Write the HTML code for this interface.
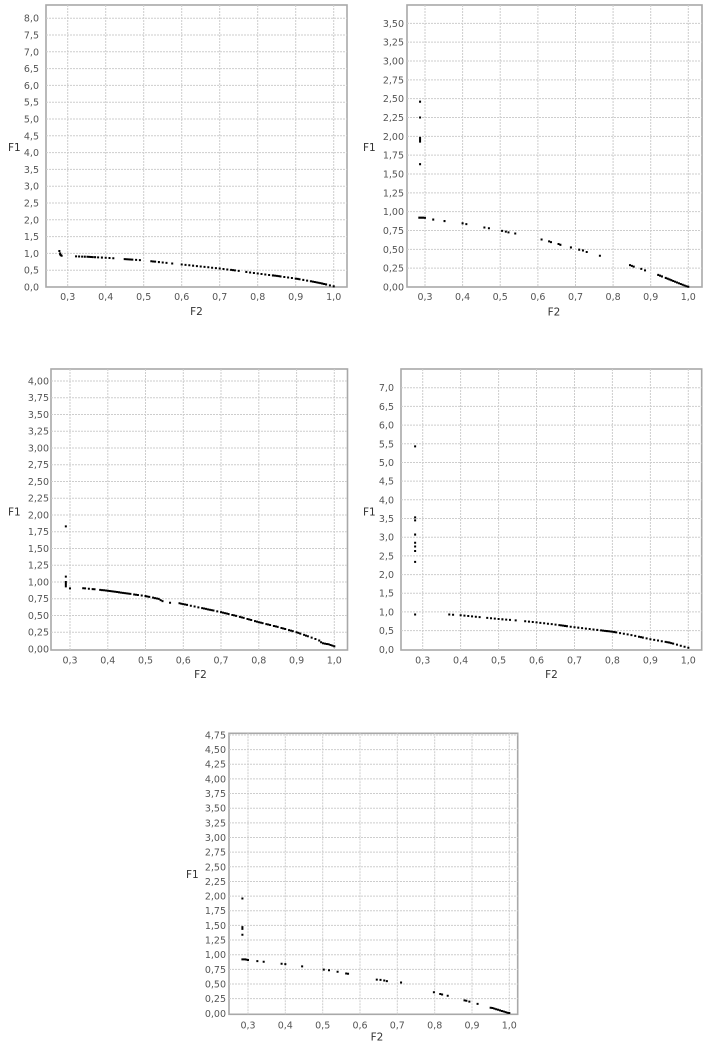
<!DOCTYPE html>
<html><head><meta charset="utf-8"><style>
html,body{margin:0;padding:0;background:#fff;}
svg{display:block;}
.tl{font-family:"DejaVu Sans","Liberation Sans",sans-serif;font-size:9.5px;fill:#555;}
.al{font-family:"DejaVu Sans","Liberation Sans",sans-serif;font-size:10.5px;fill:#333;}
.gr{stroke:#cdcdcd;stroke-width:1;stroke-dasharray:2 1;fill:none;}
.fr{fill:#fff;stroke:#a8a8a8;stroke-width:1.6;}
.pt{fill:#000;}
</style></head><body>
<svg width="710" height="1047" viewBox="0 0 710 1047" xmlns="http://www.w3.org/2000/svg">
<rect width="710" height="1047" fill="#fff"/>

<!-- ================= CHART 1 ================= -->
<g>
<rect class="fr" x="46" y="5" width="301" height="282"/>
<path class="gr" d="M67.7 5V287M105.7 5V287M143.7 5V287M181.7 5V287M219.7 5V287M257.7 5V287M295.7 5V287M333.7 5V287"/>
<path class="gr" d="M46 270.2H347M46 253.4H347M46 236.6H347M46 219.8H347M46 203H347M46 186.2H347M46 169.4H347M46 152.6H347M46 135.8H347M46 119H347M46 102.2H347M46 85.4H347M46 68.6H347M46 51.8H347M46 35H347M46 18.2H347"/>
<g class="tl" text-anchor="end">
<text x="39" y="290.5">0,0</text><text x="39" y="273.7">0,5</text><text x="39" y="256.9">1,0</text><text x="39" y="240.1">1,5</text><text x="39" y="223.3">2,0</text><text x="39" y="206.5">2,5</text><text x="39" y="189.7">3,0</text><text x="39" y="172.9">3,5</text><text x="39" y="156.1">4,0</text><text x="39" y="139.3">4,5</text><text x="39" y="122.5">5,0</text><text x="39" y="105.7">5,5</text><text x="39" y="88.9">6,0</text><text x="39" y="72.1">6,5</text><text x="39" y="55.3">7,0</text><text x="39" y="38.5">7,5</text><text x="39" y="21.7">8,0</text>
</g>
<g class="tl" text-anchor="middle">
<text x="67.7" y="300.2">0,3</text><text x="105.7" y="300.2">0,4</text><text x="143.7" y="300.2">0,5</text><text x="181.7" y="300.2">0,6</text><text x="219.7" y="300.2">0,7</text><text x="257.7" y="300.2">0,8</text><text x="295.7" y="300.2">0,9</text><text x="333.7" y="300.2">1,0</text>
</g>
<text class="al" x="8" y="150.8">F1</text>
<text class="al" x="196.5" y="315" text-anchor="middle">F2</text>
<path class="pt" transform="translate(-47.3,288) scale(380,-33.6)" d="M.278 1.07h.0053v.06h-.0053zM.28 1h.0053v.06h-.0053zM.28 .97h.0053v.06h-.0053zM.282 .95h.0053v.06h-.0053zM.284 .93h.0053v.06h-.0053zM.322 .911h.0053v.06h-.0053zM.33 .908h.0053v.06h-.0053zM.338 .905h.0053v.06h-.0053zM.345 .902h.0053v.06h-.0053zM.352 .899h.0053v.06h-.0053zM.357 .896h.0053v.06h-.0053zM.362 .893h.0053v.06h-.0053zM.366 .89h.0053v.06h-.0053zM.372 .887h.0053v.06h-.0053zM.38 .882h.0053v.06h-.0053zM.39 .876h.0053v.06h-.0053zM.4 .87h.0053v.06h-.0053zM.41 .862h.0053v.06h-.0053zM.42 .854h.0053v.06h-.0053zM.45 .83h.0053v.06h-.0053zM.455 .826h.0053v.06h-.0053zM.46 .822h.0053v.06h-.0053zM.465 .818h.0053v.06h-.0053zM.47 .814h.0053v.06h-.0053zM.48 .806h.0053v.06h-.0053zM.49 .798h.0053v.06h-.0053zM.52 .766h.0053v.06h-.0053zM.525 .76h.0053v.06h-.0053zM.53 .754h.0053v.06h-.0053zM.54 .742h.0053v.06h-.0053zM.55 .73h.0053v.06h-.0053zM.56 .718h.0053v.06h-.0053zM.575 .7h.0053v.06h-.0053zM.6 .67h.0053v.06h-.0053zM.61 .658h.0053v.06h-.0053zM.62 .646h.0053v.06h-.0053zM.63 .634h.0053v.06h-.0053zM.64 .622h.0053v.06h-.0053zM.65 .61h.0053v.06h-.0053zM.66 .598h.0053v.06h-.0053zM.67 .586h.0053v.06h-.0053zM.68 .574h.0053v.06h-.0053zM.69 .562h.0053v.06h-.0053zM.7 .55h.0053v.06h-.0053zM.71 .536h.0053v.06h-.0053zM.72 .522h.0053v.06h-.0053zM.73 .508h.0053v.06h-.0053zM.735 .501h.0053v.06h-.0053zM.74 .494h.0053v.06h-.0053zM.75 .48h.0053v.06h-.0053zM.77 .448h.0053v.06h-.0053zM.78 .432h.0053v.06h-.0053zM.79 .416h.0053v.06h-.0053zM.8 .4h.0053v.06h-.0053zM.81 .386h.0053v.06h-.0053zM.82 .372h.0053v.06h-.0053zM.83 .358h.0053v.06h-.0053zM.84 .344h.0053v.06h-.0053zM.845 .337h.0053v.06h-.0053zM.85 .33h.0053v.06h-.0053zM.855 .322h.0053v.06h-.0053zM.86 .314h.0053v.06h-.0053zM.87 .298h.0053v.06h-.0053zM.88 .282h.0053v.06h-.0053zM.89 .266h.0053v.06h-.0053zM.9 .25h.0053v.06h-.0053zM.905 .24h.0053v.06h-.0053zM.91 .23h.0053v.06h-.0053zM.92 .21h.0053v.06h-.0053zM.93 .19h.0053v.06h-.0053zM.94 .17h.0053v.06h-.0053zM.945 .16h.0053v.06h-.0053zM.95 .15h.0053v.06h-.0053zM.955 .138h.0053v.06h-.0053zM.96 .126h.0053v.06h-.0053zM.965 .114h.0053v.06h-.0053zM.97 .102h.0053v.06h-.0053zM.975 .09h.0053v.06h-.0053zM.98 .076h.0053v.06h-.0053zM.99 .048h.0053v.06h-.0053zM1 .02h.0053v.06h-.0053z"/>
</g>

<!-- ================= CHART 2 ================= -->
<g>
<rect class="fr" x="407" y="5" width="295" height="282"/>
<path class="gr" d="M425 5V287M462.6 5V287M500.2 5V287M537.9 5V287M575.5 5V287M613.1 5V287M650.7 5V287M688.3 5V287"/>
<path class="gr" d="M407 268.17H702M407 249.33H702M407 230.5H702M407 211.67H702M407 192.83H702M407 174H702M407 155.17H702M407 136.33H702M407 117.5H702M407 98.67H702M407 79.83H702M407 61H702M407 42.17H702M407 23.33H702"/>
<g class="tl" text-anchor="end">
<text x="404" y="290.5">0,00</text><text x="404" y="271.7">0,25</text><text x="404" y="252.8">0,50</text><text x="404" y="234">0,75</text><text x="404" y="215.2">1,00</text><text x="404" y="196.3">1,25</text><text x="404" y="177.5">1,50</text><text x="404" y="158.7">1,75</text><text x="404" y="139.8">2,00</text><text x="404" y="121">2,25</text><text x="404" y="102.2">2,50</text><text x="404" y="83.3">2,75</text><text x="404" y="64.5">3,00</text><text x="404" y="45.7">3,25</text><text x="404" y="26.8">3,50</text>
</g>
<g class="tl" text-anchor="middle">
<text x="425" y="300.2">0,3</text><text x="462.6" y="300.2">0,4</text><text x="500.2" y="300.2">0,5</text><text x="537.9" y="300.2">0,6</text><text x="575.5" y="300.2">0,7</text><text x="613.1" y="300.2">0,8</text><text x="650.7" y="300.2">0,9</text><text x="688.3" y="300.2">1,0</text>
</g>
<text class="al" x="363" y="150.8">F1</text>
<text class="al" x="554" y="315.3" text-anchor="middle">F2</text>
<path class="pt" transform="translate(311.1,288) scale(376.2,-75.33)" d="M.287 2.46h.0053v.027h-.0053zM.287 2.25h.0053v.027h-.0053zM.287 1.98h.0053v.027h-.0053zM.287 1.96h.0053v.027h-.0053zM.287 1.94h.0053v.027h-.0053zM.287 1.93h.0053v.027h-.0053zM.287 1.63h.0053v.027h-.0053zM.285 .92h.0053v.027h-.0053zM.29 .92h.0053v.027h-.0053zM.295 .92h.0053v.027h-.0053zM.3 .918h.0053v.027h-.0053zM.322 .895h.0053v.027h-.0053zM.352 .875h.0053v.027h-.0053zM.4 .845h.0053v.027h-.0053zM.41 .835h.0053v.027h-.0053zM.458 .79h.0053v.027h-.0053zM.47 .78h.0053v.027h-.0053zM.505 .745h.0053v.027h-.0053zM.515 .735h.0053v.027h-.0053zM.522 .725h.0053v.027h-.0053zM.54 .71h.0053v.027h-.0053zM.61 .63h.0053v.027h-.0053zM.63 .605h.0053v.027h-.0053zM.635 .595h.0053v.027h-.0053zM.655 .57h.0053v.027h-.0053zM.66 .56h.0053v.027h-.0053zM.688 .525h.0053v.027h-.0053zM.71 .495h.0053v.027h-.0053zM.72 .485h.0053v.027h-.0053zM.73 .465h.0053v.027h-.0053zM.765 .415h.0053v.027h-.0053zM.845 .29h.0053v.027h-.0053zM.85 .28h.0053v.027h-.0053zM.855 .27h.0053v.027h-.0053zM.875 .24h.0053v.027h-.0053zM.885 .22h.0053v.027h-.0053zM.92 .16h.0053v.027h-.0053zM.925 .15h.0053v.027h-.0053zM.93 .14h.0053v.027h-.0053zM.94 .12h.0053v.027h-.0053zM.945 .11h.0053v.027h-.0053zM.95 .1h.0053v.027h-.0053zM.955 .09h.0053v.027h-.0053zM.96 .08h.0053v.027h-.0053zM.965 .07h.0053v.027h-.0053zM.97 .06h.0053v.027h-.0053zM.975 .05h.0053v.027h-.0053zM.98 .04h.0053v.027h-.0053zM.985 .03h.0053v.027h-.0053zM.99 .02h.0053v.027h-.0053zM.995 .01h.0053v.027h-.0053zM1 .003h.0053v.027h-.0053z"/>
</g>

<!-- ================= CHART 3 ================= -->
<g>
<rect class="fr" x="51" y="369" width="296.5" height="281"/>
<path class="gr" d="M70 369V650M107.8 369V650M145.5 369V650M183.3 369V650M221 369V650M258.8 369V650M296.6 369V650M334.3 369V650"/>
<path class="gr" d="M51 632.25H347.5M51 615.5H347.5M51 598.75H347.5M51 582H347.5M51 565.25H347.5M51 548.5H347.5M51 531.75H347.5M51 515H347.5M51 498.25H347.5M51 481.5H347.5M51 464.75H347.5M51 448H347.5M51 431.25H347.5M51 414.5H347.5M51 397.75H347.5M51 381H347.5"/>
<g class="tl" text-anchor="end">
<text x="49" y="652.5">0,00</text><text x="49" y="635.7">0,25</text><text x="49" y="619">0,50</text><text x="49" y="602.2">0,75</text><text x="49" y="585.5">1,00</text><text x="49" y="568.7">1,25</text><text x="49" y="552">1,50</text><text x="49" y="535.2">1,75</text><text x="49" y="518.5">2,00</text><text x="49" y="501.7">2,25</text><text x="49" y="485">2,50</text><text x="49" y="468.2">2,75</text><text x="49" y="451.5">3,00</text><text x="49" y="434.7">3,25</text><text x="49" y="418">3,50</text><text x="49" y="401.2">3,75</text><text x="49" y="384.5">4,00</text>
</g>
<g class="tl" text-anchor="middle">
<text x="70" y="663.5">0,3</text><text x="107.8" y="663.5">0,4</text><text x="145.5" y="663.5">0,5</text><text x="183.3" y="663.5">0,6</text><text x="221" y="663.5">0,7</text><text x="258.8" y="663.5">0,8</text><text x="296.6" y="663.5">0,9</text><text x="334.3" y="663.5">1,0</text>
</g>
<text class="al" x="8" y="515.5">F1</text>
<text class="al" x="200.5" y="678" text-anchor="middle">F2</text>
<path class="pt" transform="translate(-44.3,650) scale(377.6,-67)" d="M.289 1.83h.0053v.03h-.0053zM.289 1.08h.0053v.03h-.0053zM.289 1h.0053v.03h-.0053zM.289 .98h.0053v.03h-.0053zM.289 .96h.0053v.03h-.0053zM.289 .95h.0053v.03h-.0053zM.289 .935h.0053v.03h-.0053zM.3 .905h.0053v.03h-.0053zM.335 .906h.0053v.03h-.0053zM.34 .904h.0053v.03h-.0053zM.35 .9h.0053v.03h-.0053zM.36 .894h.0053v.03h-.0053zM.365 .891h.0053v.03h-.0053zM.38 .882h.0053v.03h-.0053zM.385 .879h.0053v.03h-.0053zM.39 .876h.0053v.03h-.0053zM.395 .873h.0053v.03h-.0053zM.4 .87h.0053v.03h-.0053zM.405 .866h.0053v.03h-.0053zM.41 .862h.0053v.03h-.0053zM.415 .858h.0053v.03h-.0053zM.42 .854h.0053v.03h-.0053zM.425 .85h.0053v.03h-.0053zM.43 .846h.0053v.03h-.0053zM.435 .842h.0053v.03h-.0053zM.44 .838h.0053v.03h-.0053zM.445 .834h.0053v.03h-.0053zM.45 .83h.0053v.03h-.0053zM.455 .826h.0053v.03h-.0053zM.46 .822h.0053v.03h-.0053zM.47 .814h.0053v.03h-.0053zM.475 .81h.0053v.03h-.0053zM.48 .806h.0053v.03h-.0053zM.49 .798h.0053v.03h-.0053zM.5 .79h.0053v.03h-.0053zM.505 .784h.0053v.03h-.0053zM.51 .778h.0053v.03h-.0053zM.52 .766h.0053v.03h-.0053zM.525 .76h.0053v.03h-.0053zM.53 .754h.0053v.03h-.0053zM.535 .748h.0053v.03h-.0053zM.54 .73h.0053v.03h-.0053zM.545 .715h.0053v.03h-.0053zM.565 .69h.0053v.03h-.0053zM.59 .682h.0053v.03h-.0053zM.595 .676h.0053v.03h-.0053zM.6 .67h.0053v.03h-.0053zM.605 .664h.0053v.03h-.0053zM.61 .658h.0053v.03h-.0053zM.62 .646h.0053v.03h-.0053zM.63 .634h.0053v.03h-.0053zM.64 .622h.0053v.03h-.0053zM.65 .61h.0053v.03h-.0053zM.655 .604h.0053v.03h-.0053zM.66 .598h.0053v.03h-.0053zM.665 .592h.0053v.03h-.0053zM.67 .586h.0053v.03h-.0053zM.675 .58h.0053v.03h-.0053zM.68 .574h.0053v.03h-.0053zM.69 .562h.0053v.03h-.0053zM.7 .55h.0053v.03h-.0053zM.705 .543h.0053v.03h-.0053zM.71 .536h.0053v.03h-.0053zM.715 .529h.0053v.03h-.0053zM.72 .522h.0053v.03h-.0053zM.73 .508h.0053v.03h-.0053zM.735 .501h.0053v.03h-.0053zM.74 .494h.0053v.03h-.0053zM.75 .48h.0053v.03h-.0053zM.755 .472h.0053v.03h-.0053zM.76 .464h.0053v.03h-.0053zM.77 .448h.0053v.03h-.0053zM.775 .44h.0053v.03h-.0053zM.78 .432h.0053v.03h-.0053zM.79 .416h.0053v.03h-.0053zM.795 .408h.0053v.03h-.0053zM.8 .4h.0053v.03h-.0053zM.805 .393h.0053v.03h-.0053zM.81 .386h.0053v.03h-.0053zM.82 .372h.0053v.03h-.0053zM.825 .365h.0053v.03h-.0053zM.83 .358h.0053v.03h-.0053zM.84 .344h.0053v.03h-.0053zM.845 .337h.0053v.03h-.0053zM.85 .33h.0053v.03h-.0053zM.86 .314h.0053v.03h-.0053zM.865 .306h.0053v.03h-.0053zM.87 .298h.0053v.03h-.0053zM.88 .282h.0053v.03h-.0053zM.885 .274h.0053v.03h-.0053zM.89 .266h.0053v.03h-.0053zM.9 .25h.0053v.03h-.0053zM.905 .24h.0053v.03h-.0053zM.91 .23h.0053v.03h-.0053zM.92 .21h.0053v.03h-.0053zM.925 .2h.0053v.03h-.0053zM.93 .19h.0053v.03h-.0053zM.94 .17h.0053v.03h-.0053zM.95 .15h.0053v.03h-.0053zM.96 .126h.0053v.03h-.0053zM.965 .1h.0053v.03h-.0053zM.97 .085h.0053v.03h-.0053zM.975 .08h.0053v.03h-.0053zM.98 .075h.0053v.03h-.0053zM.985 .07h.0053v.03h-.0053zM.99 .06h.0053v.03h-.0053zM.995 .05h.0053v.03h-.0053zM1 .04h.0053v.03h-.0053z"/>
</g>

<!-- ================= CHART 4 ================= -->
<g>
<rect class="fr" x="401" y="369" width="300.7" height="281"/>
<path class="gr" d="M422.7 369V650M460.6 369V650M498.6 369V650M536.5 369V650M574.5 369V650M612.4 369V650M650.4 369V650M688.3 369V650"/>
<path class="gr" d="M401 630.6H701.7M401 611.9H701.7M401 593.2H701.7M401 574.6H701.7M401 555.9H701.7M401 537.2H701.7M401 518.5H701.7M401 499.8H701.7M401 481.1H701.7M401 462.45H701.7M401 443.8H701.7M401 425.1H701.7M401 406.4H701.7M401 387.7H701.7"/>
<g class="tl" text-anchor="end">
<text x="394" y="652.8">0,0</text><text x="394" y="634.1">0,5</text><text x="394" y="615.4">1,0</text><text x="394" y="596.7">1,5</text><text x="394" y="578.1">2,0</text><text x="394" y="559.4">2,5</text><text x="394" y="540.7">3,0</text><text x="394" y="522">3,5</text><text x="394" y="503.3">4,0</text><text x="394" y="484.6">4,5</text><text x="394" y="466">5,0</text><text x="394" y="447.3">5,5</text><text x="394" y="428.6">6,0</text><text x="394" y="409.9">6,5</text><text x="394" y="391.2">7,0</text>
</g>
<g class="tl" text-anchor="middle">
<text x="422.7" y="663.5">0,3</text><text x="460.6" y="663.5">0,4</text><text x="498.6" y="663.5">0,5</text><text x="536.5" y="663.5">0,6</text><text x="574.5" y="663.5">0,7</text><text x="612.4" y="663.5">0,8</text><text x="650.4" y="663.5">0,9</text><text x="688.3" y="663.5">1,0</text>
</g>
<text class="al" x="363" y="515.5">F1</text>
<text class="al" x="551.5" y="678" text-anchor="middle">F2</text>
<path class="pt" transform="translate(307.85,650.3) scale(379.5,-37.37)" d="M.28 5.43h.0053v.054h-.0053zM.28 3.53h.0053v.054h-.0053zM.28 3.45h.0053v.054h-.0053zM.28 3.07h.0053v.054h-.0053zM.28 2.85h.0053v.054h-.0053zM.28 2.75h.0053v.054h-.0053zM.28 2.63h.0053v.054h-.0053zM.28 2.34h.0053v.054h-.0053zM.28 .93h.0053v.054h-.0053zM.37 .93h.0053v.054h-.0053zM.38 .923h.0053v.054h-.0053zM.4 .91h.0053v.054h-.0053zM.41 .9h.0053v.054h-.0053zM.42 .89h.0053v.054h-.0053zM.43 .88h.0053v.054h-.0053zM.44 .87h.0053v.054h-.0053zM.45 .86h.0053v.054h-.0053zM.47 .84h.0053v.054h-.0053zM.48 .83h.0053v.054h-.0053zM.49 .82h.0053v.054h-.0053zM.5 .81h.0053v.054h-.0053zM.51 .802h.0053v.054h-.0053zM.52 .794h.0053v.054h-.0053zM.53 .786h.0053v.054h-.0053zM.545 .774h.0053v.054h-.0053zM.57 .75h.0053v.054h-.0053zM.58 .74h.0053v.054h-.0053zM.59 .73h.0053v.054h-.0053zM.6 .72h.0053v.054h-.0053zM.61 .708h.0053v.054h-.0053zM.62 .696h.0053v.054h-.0053zM.63 .684h.0053v.054h-.0053zM.64 .672h.0053v.054h-.0053zM.65 .66h.0053v.054h-.0053zM.66 .646h.0053v.054h-.0053zM.665 .639h.0053v.054h-.0053zM.67 .632h.0053v.054h-.0053zM.675 .625h.0053v.054h-.0053zM.68 .618h.0053v.054h-.0053zM.69 .604h.0053v.054h-.0053zM.7 .59h.0053v.054h-.0053zM.71 .578h.0053v.054h-.0053zM.72 .566h.0053v.054h-.0053zM.73 .554h.0053v.054h-.0053zM.74 .542h.0053v.054h-.0053zM.75 .53h.0053v.054h-.0053zM.76 .518h.0053v.054h-.0053zM.77 .506h.0053v.054h-.0053zM.775 .5h.0053v.054h-.0053zM.78 .494h.0053v.054h-.0053zM.785 .488h.0053v.054h-.0053zM.79 .482h.0053v.054h-.0053zM.795 .476h.0053v.054h-.0053zM.8 .47h.0053v.054h-.0053zM.805 .461h.0053v.054h-.0053zM.81 .452h.0053v.054h-.0053zM.82 .434h.0053v.054h-.0053zM.83 .416h.0053v.054h-.0053zM.84 .398h.0053v.054h-.0053zM.85 .38h.0053v.054h-.0053zM.86 .358h.0053v.054h-.0053zM.87 .336h.0053v.054h-.0053zM.875 .325h.0053v.054h-.0053zM.88 .314h.0053v.054h-.0053zM.89 .292h.0053v.054h-.0053zM.9 .27h.0053v.054h-.0053zM.91 .252h.0053v.054h-.0053zM.92 .234h.0053v.054h-.0053zM.93 .216h.0053v.054h-.0053zM.94 .198h.0053v.054h-.0053zM.945 .189h.0053v.054h-.0053zM.95 .18h.0053v.054h-.0053zM.955 .166h.0053v.054h-.0053zM.96 .152h.0053v.054h-.0053zM.97 .124h.0053v.054h-.0053zM.98 .096h.0053v.054h-.0053zM.99 .068h.0053v.054h-.0053zM1 .04h.0053v.054h-.0053z"/>
</g>

<!-- ================= CHART 5 ================= -->
<g>
<rect class="fr" x="229" y="733.3" width="288.7" height="281"/>
<path class="gr" d="M248 733.3V1014.3M285.3 733.3V1014.3M322.7 733.3V1014.3M360 733.3V1014.3M397.3 733.3V1014.3M434.7 733.3V1014.3M472 733.3V1014.3M509.3 733.3V1014.3"/>
<path class="gr" d="M229 998.65H517.7M229 984H517.7M229 969.35H517.7M229 954.7H517.7M229 940.05H517.7M229 925.4H517.7M229 910.75H517.7M229 896.1H517.7M229 881.45H517.7M229 866.8H517.7M229 852.15H517.7M229 837.5H517.7M229 822.85H517.7M229 808.2H517.7M229 793.55H517.7M229 778.9H517.7M229 764.25H517.7M229 749.6H517.7M229 734.95H517.7"/>
<g class="tl" text-anchor="end">
<text x="226" y="1016.8">0,00</text><text x="226" y="1002.1">0,25</text><text x="226" y="987.5">0,50</text><text x="226" y="972.8">0,75</text><text x="226" y="958.2">1,00</text><text x="226" y="943.5">1,25</text><text x="226" y="928.9">1,50</text><text x="226" y="914.2">1,75</text><text x="226" y="899.6">2,00</text><text x="226" y="884.9">2,25</text><text x="226" y="870.3">2,50</text><text x="226" y="855.6">2,75</text><text x="226" y="841">3,00</text><text x="226" y="826.3">3,25</text><text x="226" y="811.7">3,50</text><text x="226" y="797">3,75</text><text x="226" y="782.4">4,00</text><text x="226" y="767.7">4,25</text><text x="226" y="753.1">4,50</text><text x="226" y="738.4">4,75</text>
</g>
<g class="tl" text-anchor="middle">
<text x="248" y="1028.5">0,3</text><text x="285.3" y="1028.5">0,4</text><text x="322.7" y="1028.5">0,5</text><text x="360" y="1028.5">0,6</text><text x="397.3" y="1028.5">0,7</text><text x="434.7" y="1028.5">0,8</text><text x="472" y="1028.5">0,9</text><text x="509.3" y="1028.5">1,0</text>
</g>
<text class="al" x="186" y="877.8">F1</text>
<text class="al" x="377" y="1040.5" text-anchor="middle">F2</text>
<path class="pt" transform="translate(135,1014.3) scale(373.3,-58.6)" d="M.285 1.96h.0054v.034h-.0054zM.285 1.47h.0054v.034h-.0054zM.285 1.44h.0054v.034h-.0054zM.285 1.34h.0054v.034h-.0054zM.285 .92h.0054v.034h-.0054zM.29 .92h.0054v.034h-.0054zM.293 .92h.0054v.034h-.0054zM.296 .915h.0054v.034h-.0054zM.3 .91h.0054v.034h-.0054zM.325 .89h.0054v.034h-.0054zM.342 .88h.0054v.034h-.0054zM.39 .845h.0054v.034h-.0054zM.4 .84h.0054v.034h-.0054zM.445 .8h.0054v.034h-.0054zM.503 .745h.0054v.034h-.0054zM.517 .735h.0054v.034h-.0054zM.54 .71h.0054v.034h-.0054zM.563 .68h.0054v.034h-.0054zM.568 .675h.0054v.034h-.0054zM.645 .575h.0054v.034h-.0054zM.655 .57h.0054v.034h-.0054zM.665 .56h.0054v.034h-.0054zM.672 .55h.0054v.034h-.0054zM.71 .525h.0054v.034h-.0054zM.798 .36h.0054v.034h-.0054zM.815 .33h.0054v.034h-.0054zM.82 .32h.0054v.034h-.0054zM.835 .3h.0054v.034h-.0054zM.88 .22h.0054v.034h-.0054zM.885 .215h.0054v.034h-.0054zM.893 .2h.0054v.034h-.0054zM.915 .16h.0054v.034h-.0054zM.95 .095h.0054v.034h-.0054zM.955 .09h.0054v.034h-.0054zM.96 .08h.0054v.034h-.0054zM.965 .07h.0054v.034h-.0054zM.97 .06h.0054v.034h-.0054zM.975 .05h.0054v.034h-.0054zM.98 .04h.0054v.034h-.0054zM.985 .03h.0054v.034h-.0054zM.99 .02h.0054v.034h-.0054zM.995 .01h.0054v.034h-.0054zM1 .005h.0054v.034h-.0054z"/>
</g>
</svg>
</body></html>
